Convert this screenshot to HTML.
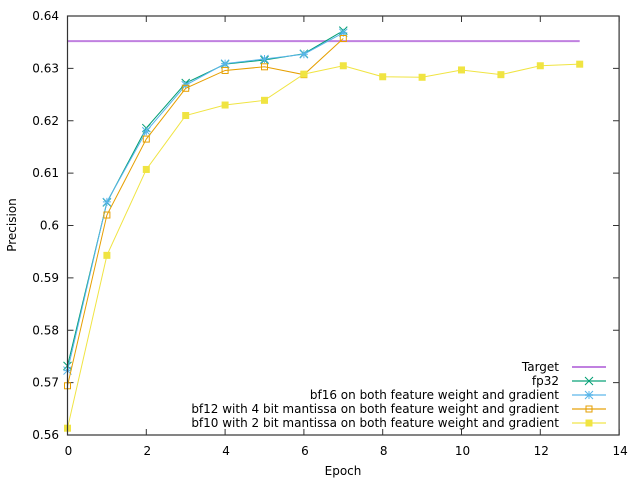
<!DOCTYPE html>
<html><head><meta charset="utf-8"><style>
body{margin:0;background:#fff}
svg text{font-family:"DejaVu Sans","Liberation Sans",sans-serif;font-size:12px;fill:#000}
</style></head><body>
<svg id="chart" width="640" height="480" viewBox="0 0 640 480" xmlns="http://www.w3.org/2000/svg">
<g id="grid"></g>
<g id="series"></g>
<g id="legend"></g>
<rect x="67.5" y="16" width="551.6" height="419" fill="none" stroke="#333" stroke-width="1.2"/>
<text transform="translate(16,225) rotate(-90)" text-anchor="middle">Precision</text>
<text x="343" y="475" text-anchor="middle">Epoch</text>
</svg>
<script>
const xTicks=[0,2,4,6,8,10,12,14];
const yTicks=[0.56,0.57,0.58,0.59,0.6,0.61,0.62,0.63,0.64];
const yTickLabels=["0.56","0.57","0.58","0.59","0.6","0.61","0.62","0.63","0.64"];
const epochs=[0,1,2,3,4,5,6,7,8,9,10,11,12,13];
const target=0.6352;
const fp32=[0.5732,0.6044,0.6186,0.6272,0.6308,0.6316,0.6328,0.6372];
const bf16=[0.5723,0.6045,0.6180,0.6268,0.6309,0.6318,0.6327,0.6368];
const bf12=[0.5694,0.6020,0.6165,0.6262,0.6296,0.6303,0.6288,0.6357];
const bf10=[0.5613,0.5943,0.6107,0.6210,0.6230,0.6239,0.6289,0.6305,0.6284,0.6283,0.6297,0.6288,0.6305,0.6308];
const NS="http://www.w3.org/2000/svg";
const X=v=>67.5+v*39.4;
const Y=v=>435-(v-0.56)*5237.5;
function mk(tag,attrs,parent){const e=document.createElementNS(NS,tag);for(const k in attrs)e.setAttribute(k,attrs[k]);parent.appendChild(e);return e;}
const grid=document.getElementById('grid'),ser=document.getElementById('series'),leg=document.getElementById('legend');
xTicks.forEach(t=>{
  const l=mk('path',{d:`M${X(t)},435v-6M${X(t)},16v6`,stroke:'#333','stroke-width':1},grid);
  
  
  const tx=mk('text',{x:X(t)+1,y:455,'text-anchor':'middle'},grid);tx.textContent=t;
  
  
});
yTicks.forEach((t,i)=>{
  const l=mk('path',{d:`M67.5,${Y(t)}h6M619,${Y(t)}h-6`,stroke:'#333','stroke-width':1},grid);
  
  
  const tx=mk('text',{x:59,y:Y(t)+4,'text-anchor':'end'},grid);tx.textContent=yTickLabels[i];
  
  
});
function marker(type,x,y,c,g){
  if(type==='x'){mk('path',{d:`M${x-4},${y-4}L${x+4},${y+4}M${x-4},${y+4}L${x+4},${y-4}`,stroke:c,'stroke-width':1},g);}
  else if(type==='star'){mk('path',{d:`M${x-4},${y-4}L${x+4},${y+4}M${x-4},${y+4}L${x+4},${y-4}M${x-4},${y}h8M${x},${y-4}v8`,stroke:c,'stroke-width':1},g);}
  else if(type==='osq'){mk('rect',{x:x-3,y:y-3,width:6,height:6,fill:'none',stroke:c,'stroke-width':1},g);}
  else if(type==='fsq'){mk('rect',{x:x-3.5,y:y-3.5,width:7,height:7,fill:c},g);}
}
const defs=[
  {name:'fp32',vals:fp32,c:'#009e73',m:'x',label:'fp32'},
  {name:'bf16',vals:bf16,c:'#56b4e9',m:'star',label:'bf16 on both feature weight and gradient'},
  {name:'bf12',vals:bf12,c:'#e69f00',m:'osq',label:'bf12 with 4 bit mantissa on both feature weight and gradient'},
  {name:'bf10',vals:bf10,c:'#f0e442',m:'fsq',label:'bf10 with 2 bit mantissa on both feature weight and gradient'}
];
const tl=mk('line',{x1:X(epochs[0]),x2:X(epochs[13]),y1:Y(target),y2:Y(target),stroke:'#c080e0','stroke-width':2},ser);


defs.forEach(d=>{
  const g=mk('g',{},ser);
  
  
  mk('polyline',{points:d.vals.map((v,i)=>X(epochs[i])+','+Y(v)).join(' '),fill:'none',stroke:d.c,'stroke-width':1},g);
  d.vals.forEach((v,i)=>marker(d.m,X(epochs[i]),Y(v),d.c,g));
});
const rows=[{label:'Target',c:'#c080e0',m:null,name:'target'}].concat(defs);
rows.forEach((r,i)=>{
  const y=367+i*14;
  const g=mk('g',{},leg);
  
  
  const t=mk('text',{x:559,y:y+4,'text-anchor':'end'},g);t.textContent=r.label;
  mk('line',{x1:572,x2:606,y1:y,y2:y,stroke:r.c,'stroke-width':2,'stroke-opacity':r.m?0.6:1},g);
  if(r.m)marker(r.m,589,y,r.c,g);
});
</script>
</body></html>
